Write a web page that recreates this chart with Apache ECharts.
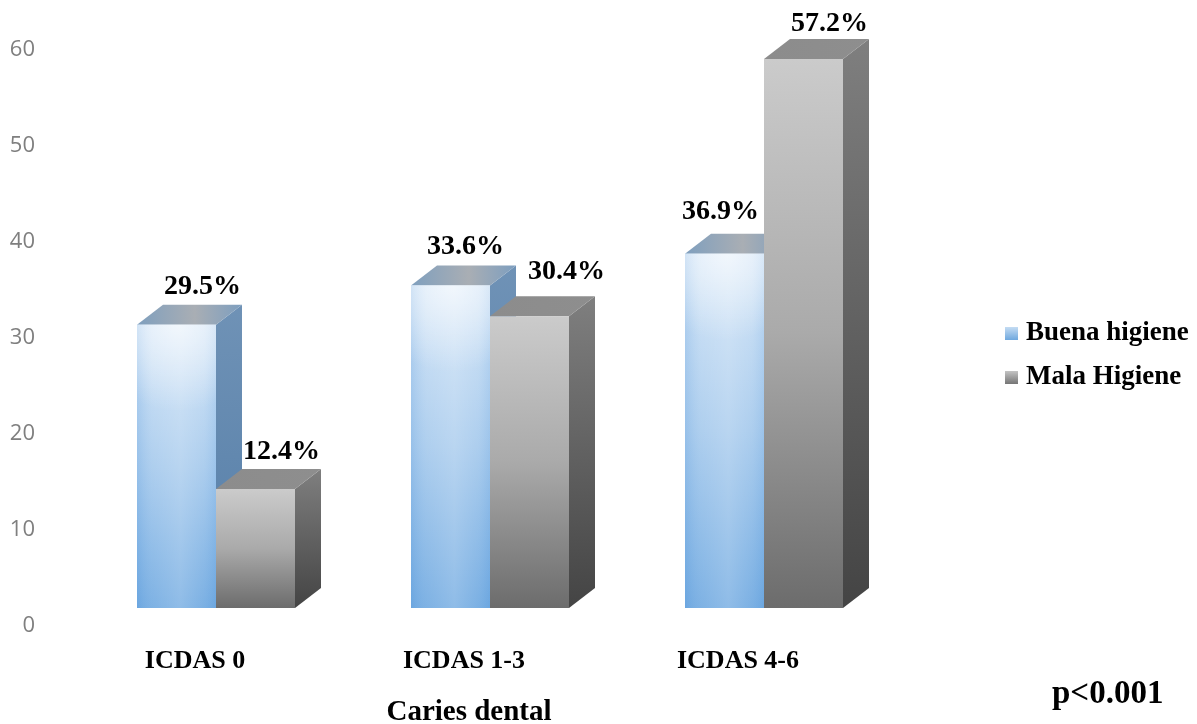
<!DOCTYPE html>
<html>
<head>
<meta charset="utf-8">
<style>html,body{margin:0;padding:0;background:#fff}#chart{width:1197px;height:724px}</style>
<script src="https://cdn.jsdelivr.net/npm/echarts@6/dist/echarts.min.js"></script>
</head>
<body>
<div id="chart"></div>
<script>
// Caries dental por nivel ICDAS según higiene oral
const categories = ['ICDAS 0', 'ICDAS 1-3', 'ICDAS 4-6'];
const buenaHigiene = [29.5, 33.6, 36.9];
const malaHigiene = [12.4, 30.4, 57.2];
const yTicks = [0, 10, 20, 30, 40, 50, 60];

// Extruded-box projection, in pixels
const LIFT = 18, DEPTH_X = 26, DEPTH_Y = 20, BAR_RATIO = 79 / 274;
const SERIF = '"Liberation Serif","Times New Roman",serif';

// Label placement relative to the front face: [dx, dy above the back edge]
const buenaNudge = [[26, 18], [15, 19], [-4, 22]];
const malaNudge = [[26, 17], [37, 24], [26, 15]];

function linear(x, y, x2, y2, stops) {
  return { type: 'linear', x, y, x2, y2,
    colorStops: stops.map(([offset, color]) => ({ offset, color })) };
}

const skins = {
  blue: {
    front: linear(0, 0, 0, 1, [[0, '#d0e3f6'], [0.5, '#a3c8ec'], [1, '#6ca7e0']]),
    sheens: [
      linear(0, 0, 1, 0, [[0, 'rgba(100,160,222,0.20)'], [0.2, 'rgba(255,255,255,0.12)'], [0.55, 'rgba(255,255,255,0.24)'], [0.85, 'rgba(255,255,255,0.10)'], [1, 'rgba(100,160,222,0.12)']]),
      { type: 'radial', x: 0.52, y: 0, r: 1.1, colorStops: [
        { offset: 0, color: 'rgba(255,255,255,0.62)' },
        { offset: 1, color: 'rgba(255,255,255,0)' }
      ] }
    ],
    side: linear(0, 0, 0, 1, [[0, '#6f92b6'], [1, '#557ea8']]),
    top: linear(0, 0, 1, 0, [[0, '#7f9fbe'], [0.55, '#a9aeb4'], [1, '#7d9ebf']])
  },
  gray: {
    front: linear(0, 0, 0, 1, [[0, '#cbcbcb'], [0.5, '#aaaaaa'], [1, '#6c6c6c']]),
    sheens: [],
    side: linear(0, 0, 0, 1, [[0, '#7f7f7f'], [1, '#444444']]),
    top: linear(0, 0, 1, 0, [[0, '#8c8c8c'], [1, '#8e8e8e']])
  }
};

function boxRenderer(skin, slot, nudges) {
  return function (params, api) {
    const cat = api.value(0), val = api.value(1);
    const base = api.coord([cat, 0]);
    const head = api.coord([cat, val]);
    const w = api.size([1, 0])[0] * BAR_RATIO;
    const x0 = base[0] + DEPTH_X - (slot === 0 ? w : 0);
    const x1 = x0 + w;
    const yb = base[1] - LIFT;
    const yt = head[1] - LIFT;
    const poly = (points, fill) => ({ type: 'polygon', shape: { points }, style: { fill } });
    const face = (fill) => ({ type: 'rect', shape: { x: x0, y: yt, width: w, height: yb - yt }, style: { fill } });
    const children = [
      poly([[x1, yt], [x1 + DEPTH_X, yt - DEPTH_Y], [x1 + DEPTH_X, yb - DEPTH_Y], [x1, yb]], skin.side),
      poly([[x0, yt], [x0 + DEPTH_X, yt - DEPTH_Y], [x1 + DEPTH_X, yt - DEPTH_Y], [x1, yt]], skin.top),
      face(skin.front)
    ].concat(skin.sheens.map(face));
    const nudge = nudges[cat];
    children.push({
      type: 'text',
      z2: 50,
      style: {
        x: (x0 + x1) / 2 + nudge[0],
        y: yt - DEPTH_Y - nudge[1],
        text: val.toFixed(1) + '%',
        fill: '#000',
        font: 'bold 28px ' + SERIF,
        align: 'center',
        verticalAlign: 'middle'
      }
    });
    return { type: 'group', children };
  };
}

const chart = echarts.init(document.getElementById('chart'), null, { renderer: 'canvas' });
chart.setOption({
  backgroundColor: '#ffffff',
  animation: false,
  grid: { left: 53, width: 822, top: 50, height: 576, outerBoundsMode: 'none' },
  legend: {
    left: 1000, top: 315,
    orient: 'vertical',
    itemWidth: 13, itemHeight: 13, itemGap: 17,
    icon: 'rect',
    textStyle: { fontFamily: SERIF, fontWeight: 'bold', fontSize: 27, color: '#000', padding: [0, 0, 0, 3] },
    data: ['Buena higiene', 'Mala Higiene']
  },
  xAxis: {
    type: 'category',
    data: categories,
    axisLine: { show: false },
    axisTick: { show: false },
    axisLabel: {
      margin: 22,
      fontFamily: SERIF, fontWeight: 'bold', fontSize: 26, color: '#000',
      formatter: (name, i) => (i === 0 ? '{first|' + name + '}' : name),
      rich: { first: { fontFamily: SERIF, fontWeight: 'bold', fontSize: 26, color: '#000', padding: [0, 0, 0, 10] } }
    },
    name: 'Caries dental',
    nameLocation: 'middle',
    nameGap: 72,
    nameTextStyle: { fontFamily: SERIF, fontWeight: 'bold', fontSize: 29, color: '#000', padding: [0, 0, 0, 10] }
  },
  yAxis: {
    type: 'value',
    min: yTicks[0],
    max: yTicks[yTicks.length - 1],
    interval: yTicks[1] - yTicks[0],
    axisLine: { show: false },
    axisTick: { show: false },
    splitLine: { show: false },
    axisLabel: { margin: 18, fontFamily: '"Open Sans","Noto Sans",sans-serif', fontSize: 22, color: '#7f7f7f' }
  },
  graphic: [{
    type: 'text', left: 1052, top: 678,
    style: { text: 'p<0.001', font: 'bold 33px ' + SERIF, fill: '#000' }
  }],
  series: [
    {
      name: 'Buena higiene', type: 'custom',
      itemStyle: { color: linear(0, 0, 0, 1, [[0, '#c4dcf3'], [1, '#6fa8de']]) },
      encode: { x: 0, y: 1 },
      data: buenaHigiene.map((v, i) => [i, v]),
      renderItem: boxRenderer(skins.blue, 0, buenaNudge)
    },
    {
      name: 'Mala Higiene', type: 'custom',
      itemStyle: { color: linear(0, 0, 0, 1, [[0, '#c4c4c4'], [1, '#757575']]) },
      encode: { x: 0, y: 1 },
      data: malaHigiene.map((v, i) => [i, v]),
      renderItem: boxRenderer(skins.gray, 1, malaNudge)
    }
  ]
});
</script>
</body>
</html>
